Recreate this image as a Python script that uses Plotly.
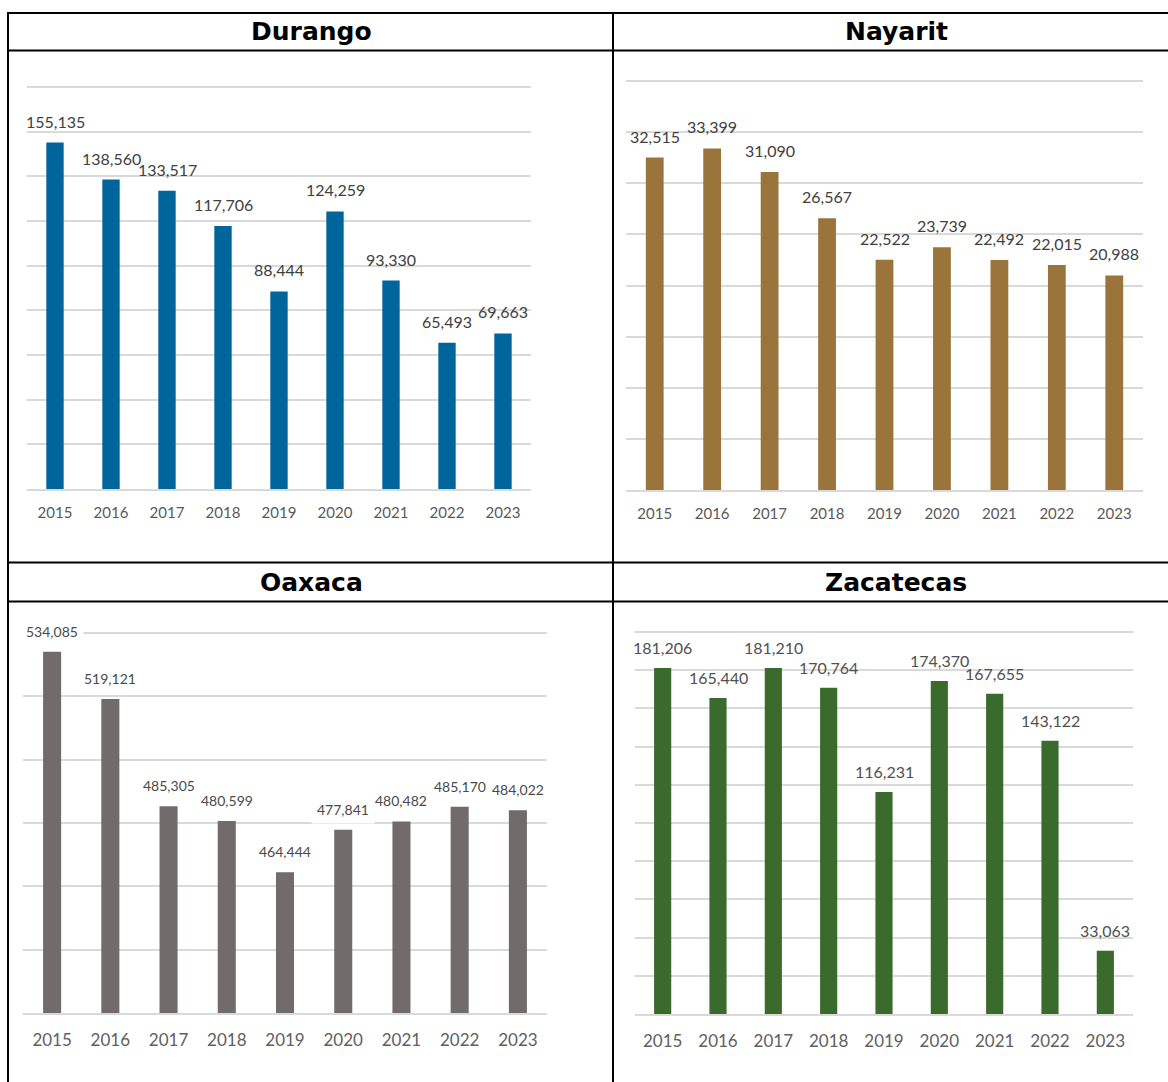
import plotly.graph_objects as go

# ---- data -------------------------------------------------------------
years = ["2015", "2016", "2017", "2018", "2019", "2020", "2021", "2022", "2023"]

durango = [155135, 138560, 133517, 117706, 88444, 124259, 93330, 65493, 69663]
nayarit = [32515, 33399, 31090, 26567, 22522, 23739, 22492, 22015, 20988]
oaxaca = [534085, 519121, 485305, 480599, 464444, 477841, 480482, 485170, 484022]
zacatecas = [181206, 165440, 181210, 170764, 116231, 174370, 167655, 143122, 33063]

states = ["Durango", "Nayarit", "Oaxaca", "Zacatecas"]

# ---- page geometry (pixels) -------------------------------------------
W, H = 1168, 1082


def fx(px):
    return px / W


def fy(py):
    return 1 - py / H


# headroom (fraction of one grid step) so the top gridline sits inside the plot
PAD = 0.12

panels = [
    dict(values=durango, color="#00659A", x0=27, x1=531, ytop=87, ybot=489,
         yr=(0, 180000), dtick=20000, lab=16, tick=15, lc="#404040", tc="#595959",
         ys=10, stand=9, bg=None),
    dict(values=nayarit, color="#9B743C", x0=626, x1=1143, ytop=81, ybot=490,
         yr=(0, 40000), dtick=5000, lab=16, tick=15, lc="#404040", tc="#595959",
         ys=10, stand=9, bg=None),
    dict(values=oaxaca, color="#716B6C", x0=23, x1=547, ytop=633, ybot=1013,
         yr=(420000, 540000), dtick=20000, lab=14, tick=17, lc="#4a4a4a", tc="#606060",
         ys=6, stand=11, bg="white"),
    dict(values=zacatecas, color="#3A6A2C", x0=635, x1=1133, ytop=632, ybot=1014,
         yr=(0, 200000), dtick=20000, lab=16, tick=17, lc="#505050", tc="#606060",
         ys=9, stand=11, bg=None),
]

fig = go.Figure()
annotations = []
layout_axes = {}

for i, p in enumerate(panels, start=1):
    xa = "x" if i == 1 else f"x{i}"
    ya = "y" if i == 1 else f"y{i}"
    fig.add_trace(go.Bar(
        x=years, y=p["values"], xaxis=xa, yaxis=ya,
        marker=dict(color=p["color"], line=dict(width=0)),
        width=0.31, hoverinfo="x+y", showlegend=False,
    ))
    xkey = "xaxis" if i == 1 else f"xaxis{i}"
    ykey = "yaxis" if i == 1 else f"yaxis{i}"
    n_steps = (p["yr"][1] - p["yr"][0]) / p["dtick"]
    interval_px = (p["ybot"] - p["ytop"]) / n_steps
    grid_vals = [p["yr"][0] + k * p["dtick"] for k in range(int(n_steps) + 1)]
    layout_axes[xkey] = dict(
        domain=[fx(p["x0"]), fx(p["x1"])], anchor=ya,
        type="category", range=[-0.5, 8.5],
        showgrid=False, zeroline=False,
        showline=True, linecolor="#D9D9D9", linewidth=1.5,
        ticks="", ticklabelstandoff=p["stand"],
        tickfont=dict(family="Lato", size=p["tick"], color=p["tc"]),
        fixedrange=True,
    )
    layout_axes[ykey] = dict(
        domain=[fy(p["ybot"]), fy(p["ytop"] - PAD * interval_px)], anchor=xa,
        range=[p["yr"][0], p["yr"][1] + PAD * p["dtick"]],
        tickmode="array", tickvals=grid_vals,
        showgrid=True, gridcolor="#D9D9D9", gridwidth=1.5,
        zeroline=False, showticklabels=False, showline=False,
        fixedrange=True,
    )
    # value labels above each bar (category axes take the serial index)
    for idx, v in enumerate(p["values"]):
        ann = dict(
            x=idx, y=v, xref=xa, yref=ya, text=f"{v:,}", showarrow=False,
            yanchor="bottom", yshift=p["ys"],
            font=dict(family="Lato", size=p["lab"], color=p["lc"]),
        )
        if p["bg"]:
            ann.update(bgcolor=p["bg"], borderpad=5)
        annotations.append(ann)

# ---- table frame and state headers --------------------------------------
line = dict(color="black", width=2)
shapes = [
    dict(type="line", xref="paper", yref="paper", x0=fx(7), x1=1, y0=fy(13), y1=fy(13), line=line),
    dict(type="line", xref="paper", yref="paper", x0=fx(7), x1=1, y0=fy(50.5), y1=fy(50.5), line=line),
    dict(type="line", xref="paper", yref="paper", x0=fx(7), x1=1, y0=fy(562.5), y1=fy(562.5), line=line),
    dict(type="line", xref="paper", yref="paper", x0=fx(7), x1=1, y0=fy(601.5), y1=fy(601.5), line=line),
    dict(type="line", xref="paper", yref="paper", x0=fx(8), x1=fx(8), y0=fy(12), y1=0, line=line),
    dict(type="line", xref="paper", yref="paper", x0=fx(613), x1=fx(613), y0=fy(12), y1=0, line=line),
]

header_pos = [(311, 31.5), (896, 31.5), (311, 582), (896, 582)]
for name, (hx, hy) in zip(states, header_pos):
    annotations.append(dict(
        x=fx(hx), y=fy(hy), xref="paper", yref="paper", text=f"<b>{name}</b>",
        showarrow=False, xanchor="center", yanchor="middle",
        font=dict(family="DejaVu Sans", size=25, color="black"),
    ))

fig.update_layout(
    width=W, height=H, margin=dict(l=0, r=0, t=0, b=0),
    paper_bgcolor="white", plot_bgcolor="white",
    shapes=shapes, annotations=annotations, showlegend=False,
    **layout_axes,
)

fig.write_html("out.html", config={"displayModeBar": False})
